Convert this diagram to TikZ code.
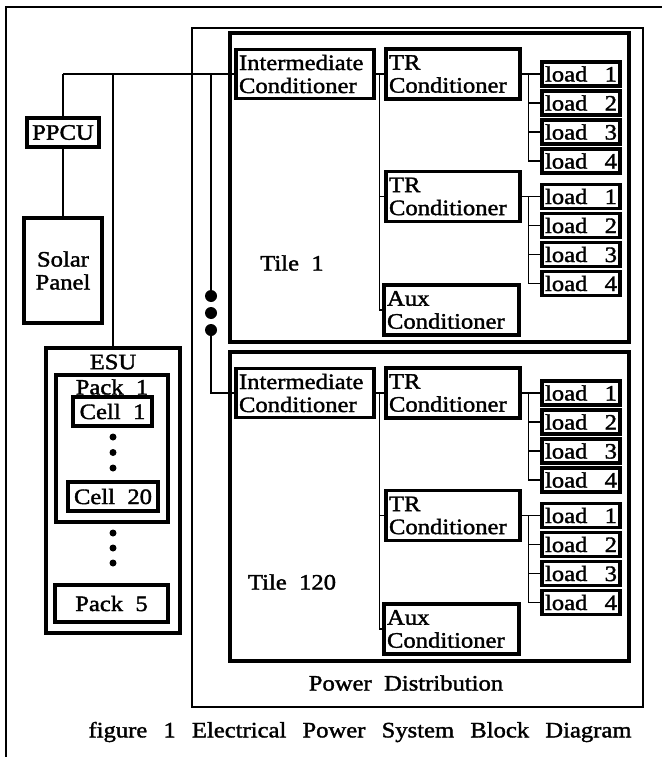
\documentclass[tikz,border=0pt]{standalone}
\usepackage{fontspec}
\setmainfont{Liberation Serif}[FakeStretch=1.12,FakeBold=1.6]
\usetikzlibrary{calc}
\begin{document}
\begin{tikzpicture}[x=1pt,y=-1pt]
\tikzset{
  every node/.style={font=\fontsize{22}{23}\selectfont},
  conn/.style={line width=1.3pt},
  heavy/.style={draw, line width=3.2pt, inner sep=3pt},
  blk/.style n args={3}{heavy, minimum width=#1, minimum height=#2, text width=#3, align=left},
  plainbox/.style 2 args={heavy, minimum width=#1, minimum height=#2, inner sep=0pt},
  ldbox/.style={heavy, minimum width=78, minimum height=24, text width=72pt, inner ysep=1pt},
  cont/.style={draw, line width=3.2pt, inner sep=0pt},
  bigdot/.style={circle, fill, inner sep=0pt, minimum size=12},
  smalldot/.style={circle, fill, inner sep=0pt, minimum size=7},
  lbl/.style={inner sep=0pt}
}
\useasboundingbox (0,0) rectangle (662,757);
% outer frame (top and left edges of the page border)
\draw[line width=1.6pt] (6,757) -- (6,7) -- (662,7);

% power distribution outer box
\node[draw, line width=1.6pt, inner sep=0pt, minimum width=451, minimum height=679] (pd) at (417.5,367.5) {};
\node[lbl] (pdlab) at (406,683) {Power~~Distribution};

% tiles
\foreach \t/\dy/\tl in {1/0/Tile~~1, 2/319/Tile~~120}{
  \node[cont, minimum width=399, minimum height=309] (tile\t) at (429.5,{187.5+\dy}) {};
  \node[lbl] (tlab\t) at (292,{263+\dy}) {\tl};
  \node[blk={138}{49}{132pt}] (int\t) at (305,{74+\dy}) {Intermediate\\Conditioner};
  \node[blk={134}{50}{128pt}] (tra\t) at (453,{74+\dy}) {TR\\Conditioner};
  \node[blk={134}{50}{128pt}] (trb\t) at (453,{196.5+\dy}) {TR\\Conditioner};
  \node[blk={135}{50}{129pt}] (aux\t) at (451.5,{310+\dy}) {Aux\\Conditioner};
  \coordinate (bj\t) at (379.5,{74+\dy});
  \draw[conn] (int\t.east) -- (tra\t.west);
  \draw[conn] (bj\t) |- (trb\t.west);
  \draw[conn] (bj\t) |- (aux\t.west);
  \foreach \g/\gy in {a/74, b/196.5}{
    \foreach \k in {1,...,4}{
      \node[ldbox] (ld\t\g\k) at (581,{\gy+29*(\k-1)+\dy}) {load\hfill\k};
    }
    \draw[conn] (tr\g\t.east) -- (ld\t\g1.west);
    \draw[conn] ($(ld\t\g1.west)+(-12,0)$) |- (ld\t\g4.west);
    \draw[conn] ($(ld\t\g2.west)+(-12,0)$) -- (ld\t\g2.west);
    \draw[conn] ($(ld\t\g3.west)+(-12,0)$) -- (ld\t\g3.west);
  }
}

% dots between tiles
\node[bigdot] (dot1) at (211,296) {};
\node[bigdot] (dot2) at (211,313) {};
\node[bigdot] (dot3) at (211,330) {};

% left side: PPCU, Solar Panel
\node[plainbox={72}{29}] (ppcu) at (63,132.5) {PPCU};
\node[heavy, minimum width=78, minimum height=105, align=center, inner sep=0pt] (solar) at (63,270.5) {Solar\\Panel};

% ESU
\node[cont, minimum width=134, minimum height=285] (esu) at (113,490.5) {};
\node[lbl] (esulab) at (113,362) {ESU};
\node[cont, minimum width=112, minimum height=147] (pack1) at (112,448.5) {};
\node[lbl] (pack1lab) at (112,387) {Pack~~1};
\node[plainbox={79}{29}] (cell1) at (112.5,411.5) {Cell~~1};
\node[smalldot] (cd1) at (113,437) {};
\node[smalldot] (cd2) at (113,452.5) {};
\node[smalldot] (cd3) at (113,468) {};
\node[plainbox={90}{29}] (cell20) at (113,496.5) {Cell~~20};
\node[smalldot] (pd1) at (113,533) {};
\node[smalldot] (pd2) at (113,548) {};
\node[smalldot] (pd3) at (113,563) {};
\node[plainbox={113}{37}] (pack5) at (111.5,603.5) {Pack~~5};

% bus connections
\coordinate (bus) at (63,74);
\draw[conn] (bus) -- (int1.west);
\draw[conn] (bus) -- (ppcu.north);
\draw[conn] (ppcu.south) -- (solar.north);
\draw[conn] (esu.north |- bus) -- (esu.north);
\draw[conn] (dot1.north |- bus) -- (dot1.north);
\draw[conn] (dot3.south) |- (int2.west);

% caption
\node[lbl] (cap) at (360,732) {\makebox[543pt][s]{figure 1 Electrical Power System Block Diagram}};
\end{tikzpicture}
\end{document}
